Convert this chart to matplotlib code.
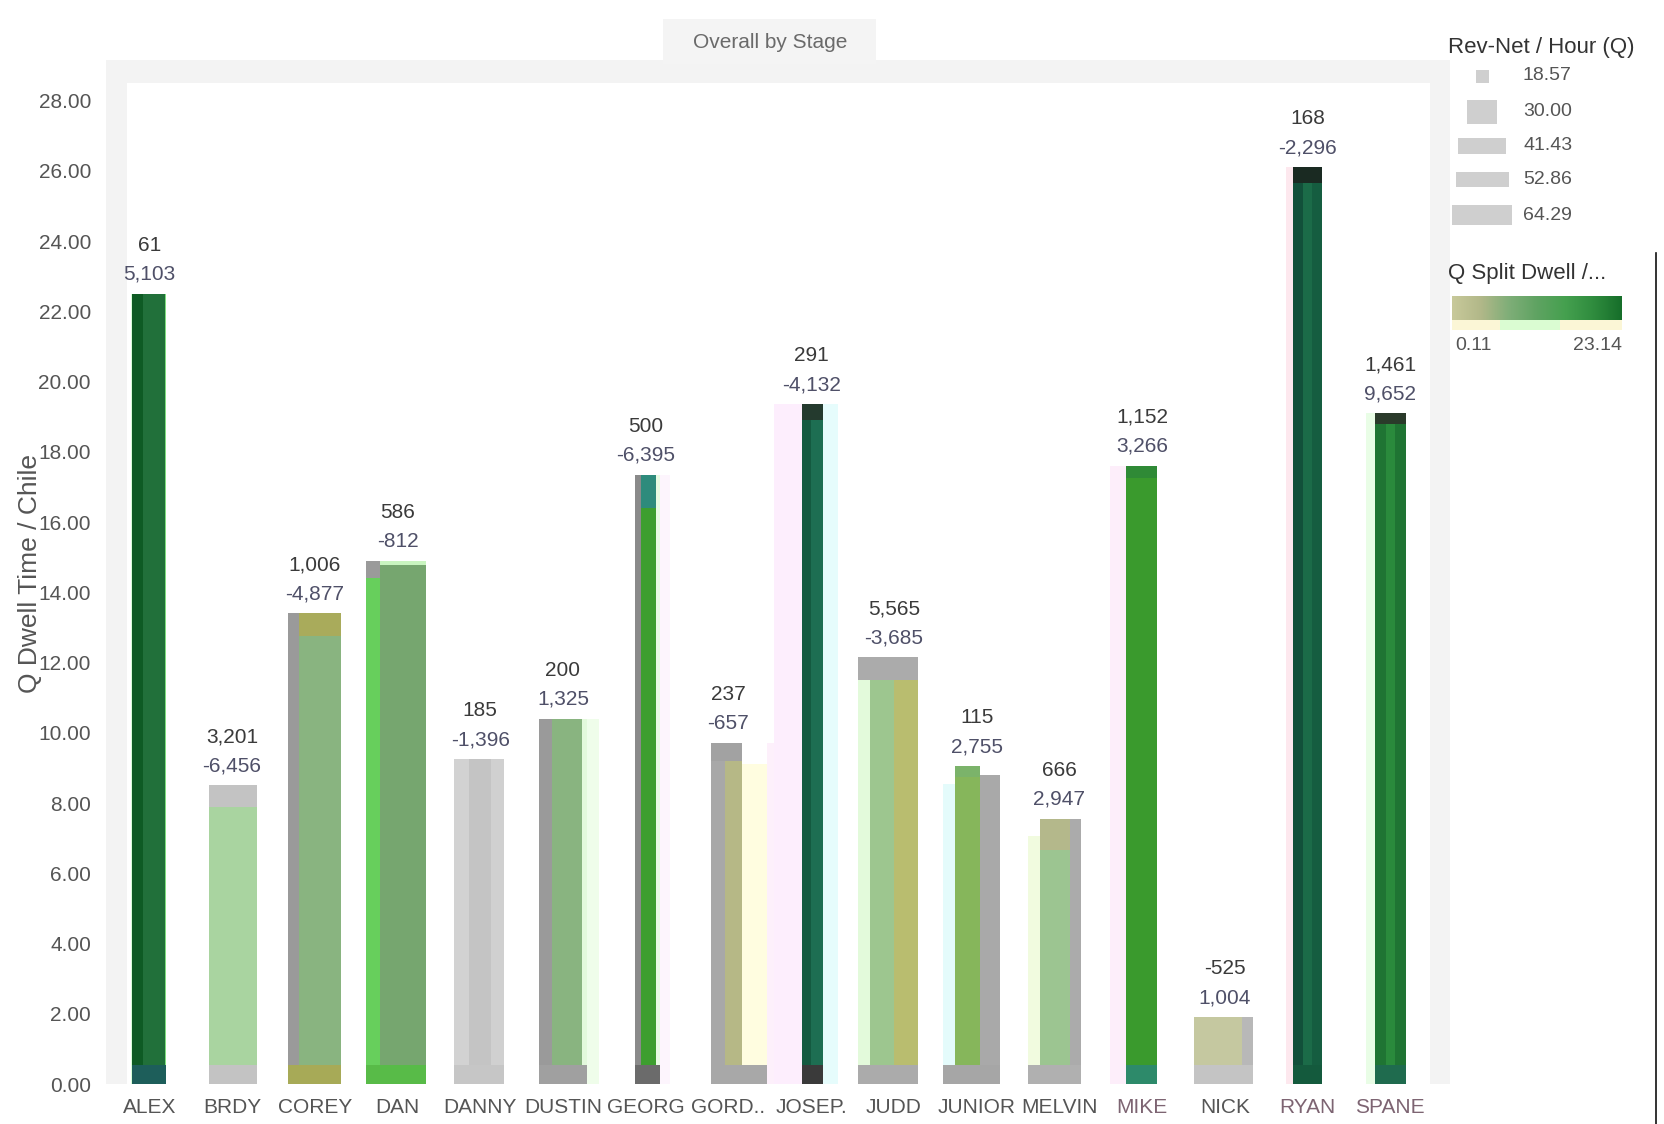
import numpy as np
import matplotlib
matplotlib.use("Agg")
import matplotlib.pyplot as plt
from matplotlib.colors import LinearSegmentedColormap
from matplotlib.patches import Rectangle
from matplotlib.lines import Line2D

plt.rcParams["font.family"] = ["Liberation Sans Narrow", "Liberation Sans", "DejaVu Sans"]

#------------
# Datos
#------------
categorias = ["ALEX", "BRDY", "COREY", "DAN", "DANNY", "DUSTIN", "GEORG", "GORD..",
              "JOSEP.", "JUDD", "JUNIOR", "MELVIN", "MIKE", "NICK", "RYAN", "SPANE"]
dwell = [22.5, 8.5, 13.4, 14.9, 9.25, 10.4, 17.35, 9.7,
         19.35, 12.15, 9.05, 7.55, 17.6, 1.9, 26.1, 19.1]
etiqueta_sup = ["61", "3,201", "1,006", "586", "185", "200", "500", "237",
                "291", "5,565", "115", "666", "1,152", "-525", "168", "1,461"]
etiqueta_inf = ["5,103", "-6,456", "-4,877", "-812", "-1,396", "1,325", "-6,395", "-657",
                "-4,132", "-3,685", "2,755", "2,947", "3,266", "1,004", "-2,296", "9,652"]

leyenda_rev = ["18.57", "30.00", "41.43", "52.86", "64.29"]
split_min, split_max = "0.11", "23.14"

#----------------------------------
# Geometría y colores de cada barra
#----------------------------------
desplaz = [-0.205, -0.28, -0.32, -0.38, -0.315, -0.29, -0.135, -0.21,
           -0.105, -0.44, -0.41, -0.38, -0.2, -0.37, -0.175, -0.185]
ancho = [0.41, 0.58, 0.64, 0.73, 0.60, 0.58, 0.31, 0.67,
         0.25, 0.73, 0.69, 0.64, 0.38, 0.71, 0.35, 0.38]

# franjas verticales: (desde, hasta, color, recorte superior)
franjas = [
    [(0, 0.3, "#0e5b24", 0), (0.3, 0.95, "#21703a", 0), (0.95, 1, "#7fe07f", 0)],
    [(0, 1, "#a9d4a0", 0)],
    [(0, 0.2, "#9a9a9a", 0), (0.2, 1, "#89b480", 0)],
    [(0, 0.23, "#67cf5c", 0), (0.23, 1, "#76a66f", 0)],
    [(0, 0.3, "#d2d2d2", 0), (0.3, 0.75, "#c4c4c4", 0), (0.75, 1, "#d0d0d0", 0)],
    [(0, 0.27, "#9a9a9a", 0), (0.27, 0.9, "#89b480", 0), (0.9, 1, "#e3f9dc", 0)],
    [(0, 0.25, "#8a8a8a", 0), (0.25, 0.85, "#3d9e2f", 0), (0.85, 1, "#e8fbe3", 0)],
    [(0, 0.25, "#a8a8a8", 0), (0.25, 0.55, "#b6b886", 0), (0.55, 1, "#fffde0", 0.6)],
    [(0, 0.4, "#145a40", 0), (0.4, 1, "#1d6e52", 0)],
    [(0, 0.2, "#e3fadb", 0.55), (0.2, 0.6, "#9dc68f", 0), (0.6, 1, "#b9bd6f", 0)],
    [(0, 0.22, "#e4fbfb", 0.5), (0.22, 0.66, "#86b65b", 0), (0.66, 1, "#a9a9a9", 0.25)],
    [(0, 0.22, "#f1fbdf", 0.5), (0.22, 0.8, "#9cc591", 0), (0.8, 1, "#ababab", 0)],
    [(0, 1, "#3a9a2d", 0)],
    [(0, 0.82, "#c5c8a0", 0), (0.82, 1, "#b8b8b8", 0)],
    [(0, 0.35, "#12503a", 0), (0.35, 0.65, "#1b6b48", 0), (0.65, 1, "#155d40", 0)],
    [(0, 0.35, "#1f7433", 0), (0.35, 0.65, "#2a8a3c", 0), (0.65, 1, "#1f7433", 0)],
]

# remate superior: (desde, hasta, color, alto)
remates = [
    [],
    [(0, 1, "#c3c3c3", 0.6)],
    [(0.2, 1, "#a9ab5b", 0.65)],
    [(0, 0.23, "#9a9a9a", 0.5), (0.23, 1, "#c9f5c0", 0.12)],
    [],
    [],
    [(0.25, 0.85, "#2e8b7c", 0.95)],
    [(0, 0.55, "#a2a2a2", 0.5)],
    [(0, 1, "#243a2e", 0.45)],
    [(0, 1, "#ababab", 0.65)],
    [(0.22, 0.66, "#7bb36a", 0.3)],
    [(0.22, 0.8, "#b4b88b", 0.9)],
    [(0, 1, "#2f8a36", 0.35)],
    [],
    [(0, 1, "#1a2a22", 0.45)],
    [(0, 1, "#2a3a2a", 0.3)],
]

# tramo inferior
base_col = ["#1d5e5a", "#c3c3c3", "#a7aa57", "#58bb48", "#c6c6c6", "#a0a0a0", "#6b6b6b", "#a8a8a8",
            "#3a3a3a", "#ababab", "#a6a6a6", "#b0b0b0", "#2d8a6a", "#c4c4c4", "#145a3d", "#1f6b4e"]

# columnas claras alrededor de algunas barras: (desde, hasta, color)
halos = [
    [(-0.05, 0, "#d8ffd8")],
    [],
    [],
    [],
    [],
    [(1, 1.25, "#effdea")],
    [(1, 1.4, "#fdf5fd")],
    [(1, 1.3, "#fdf0fb")],
    [(-1.4, 0, "#fdeefd"), (1, 1.7, "#e6fcfc")],
    [],
    [],
    [],
    [(-0.5, 0, "#fdeefa")],
    [],
    [(-0.25, 0, "#fde8ee")],
    [(-0.3, 0, "#e9fde6")],
]

BASE_H = 0.55
W, H = 1664, 1124

fig = plt.figure(figsize=(W / 100, H / 100), dpi=100)
fig.patch.set_facecolor("white")


def fx(px):
    return px / W


def fy(py):
    return 1 - py / H


# marco gris del visual
fig.add_artist(Rectangle((fx(106), fy(1084)), fx(1450) - fx(106), fy(60) - fy(1084),
                         transform=fig.transFigure, facecolor="#f3f3f3", edgecolor="none", zorder=0))
# caja del título
fig.add_artist(Rectangle((fx(663), fy(64)), fx(876) - fx(663), fy(19) - fy(64),
                         transform=fig.transFigure, facecolor="#f4f4f4", edgecolor="none", zorder=0))
fig.text(fx(770), fy(43), "Overall by Stage", ha="center", va="center", fontsize=15, color="#6a6a6a")

ax = fig.add_axes([fx(127), fy(1084), fx(1430) - fx(127), fy(83) - fy(1084)])
ax.set_facecolor("white")
ax.set_xlim(-0.27, 15.48)
ax.set_ylim(0, 28.5)

for i, tot in enumerate(dwell):
    x0 = i + desplaz[i]
    w = ancho[i]
    for f0, f1, c in halos[i]:
        ax.bar(x0 + f0 * w, tot, width=(f1 - f0) * w, align="edge", color=c, zorder=1)
    for f0, f1, c, rec in franjas[i]:
        ax.bar(x0 + f0 * w, tot - rec, width=(f1 - f0) * w, align="edge", color=c, zorder=2)
    for f0, f1, c, h in remates[i]:
        ax.bar(x0 + f0 * w, h, bottom=tot - h, width=(f1 - f0) * w, align="edge", color=c, zorder=3)
    ax.bar(x0, BASE_H, width=w, align="edge", color=base_col[i], zorder=3)

    ax.annotate(etiqueta_inf[i], (i, tot), xytext=(0, 14), textcoords="offset points",
                ha="center", va="center", fontsize=15, color="#4f5068", zorder=5)
    ax.annotate(etiqueta_sup[i], (i, tot), xytext=(0, 35), textcoords="offset points",
                ha="center", va="center", fontsize=15, color="#3a3a3a", zorder=5)

ax.set_yticks(np.arange(0, 28.1, 2))
ax.set_yticklabels([f"{v:.2f}" for v in np.arange(0, 28.1, 2)])
ax.set_xticks(range(len(categorias)))
ax.set_xticklabels(categorias)
ax.tick_params(axis="both", length=0, labelsize=15, colors="#555555")
ax.tick_params(axis="x", pad=10)
ax.tick_params(axis="y", pad=26)
for lbl, nombre in zip(ax.get_xticklabels(), categorias):
    if nombre in ("MIKE", "RYAN", "SPANE"):
        lbl.set_color("#7d6472")
for s in ax.spines.values():
    s.set_visible(False)

fig.text(fx(30), fy(573), "Q Dwell Time / Chile", rotation=90, ha="center", va="center",
         fontsize=19, color="#555555")

#------------------------
# Leyenda de tamaño (gris)
#------------------------
fig.text(fx(1448), fy(48), "Rev-Net / Hour (Q)", ha="left", va="center", fontsize=16, color="#333333")
caja_w = [13, 30, 48, 53, 60]
caja_h = [13, 23, 15, 15, 19]
caja_y = [76, 112, 146, 180, 215]
for lab, bw, bh, cy in zip(leyenda_rev, caja_w, caja_h, caja_y):
    fig.add_artist(Rectangle((fx(1482 - bw / 2), fy(cy + bh / 2)), bw / W, bh / H,
                             transform=fig.transFigure, facecolor="#cfcfcf", edgecolor="none"))
    fig.text(fx(1523), fy(cy), lab, ha="left", va="center", fontsize=14, color="#555555")

#--------------------------
# Leyenda de color (degradé)
#--------------------------
fig.text(fx(1448), fy(274), "Q Split Dwell /...", ha="left", va="center", fontsize=16, color="#333333")
cmap = LinearSegmentedColormap.from_list(
    "split", ["#c8c99a", "#b2b889", "#7fae78", "#5fa362", "#45a04f", "#2f8c3e", "#166e2a"])
cax = fig.add_axes([fx(1452), fy(320), fx(1622) - fx(1452), fy(296) - fy(320)])
cax.imshow(np.linspace(0, 1, 256)[None, :], aspect="auto", cmap=cmap)
cax.set_axis_off()
fig.add_artist(Rectangle((fx(1452), fy(330)), fx(1622) - fx(1452), (330 - 320) / H,
                         transform=fig.transFigure, facecolor="#fbf6d6", edgecolor="none"))
fig.add_artist(Rectangle((fx(1500), fy(330)), fx(1560) - fx(1500), (330 - 320) / H,
                         transform=fig.transFigure, facecolor="#dafcd2", edgecolor="none"))
fig.text(fx(1455), fy(346), split_min, ha="left", va="center", fontsize=14, color="#555555")
fig.text(fx(1622), fy(346), split_max, ha="right", va="center", fontsize=14, color="#555555")

fig.add_artist(Line2D([fx(1656), fx(1656)], [fy(253), 0], transform=fig.transFigure,
                      color="#111111", lw=1.2))

fig.savefig("out.png", dpi=100)
